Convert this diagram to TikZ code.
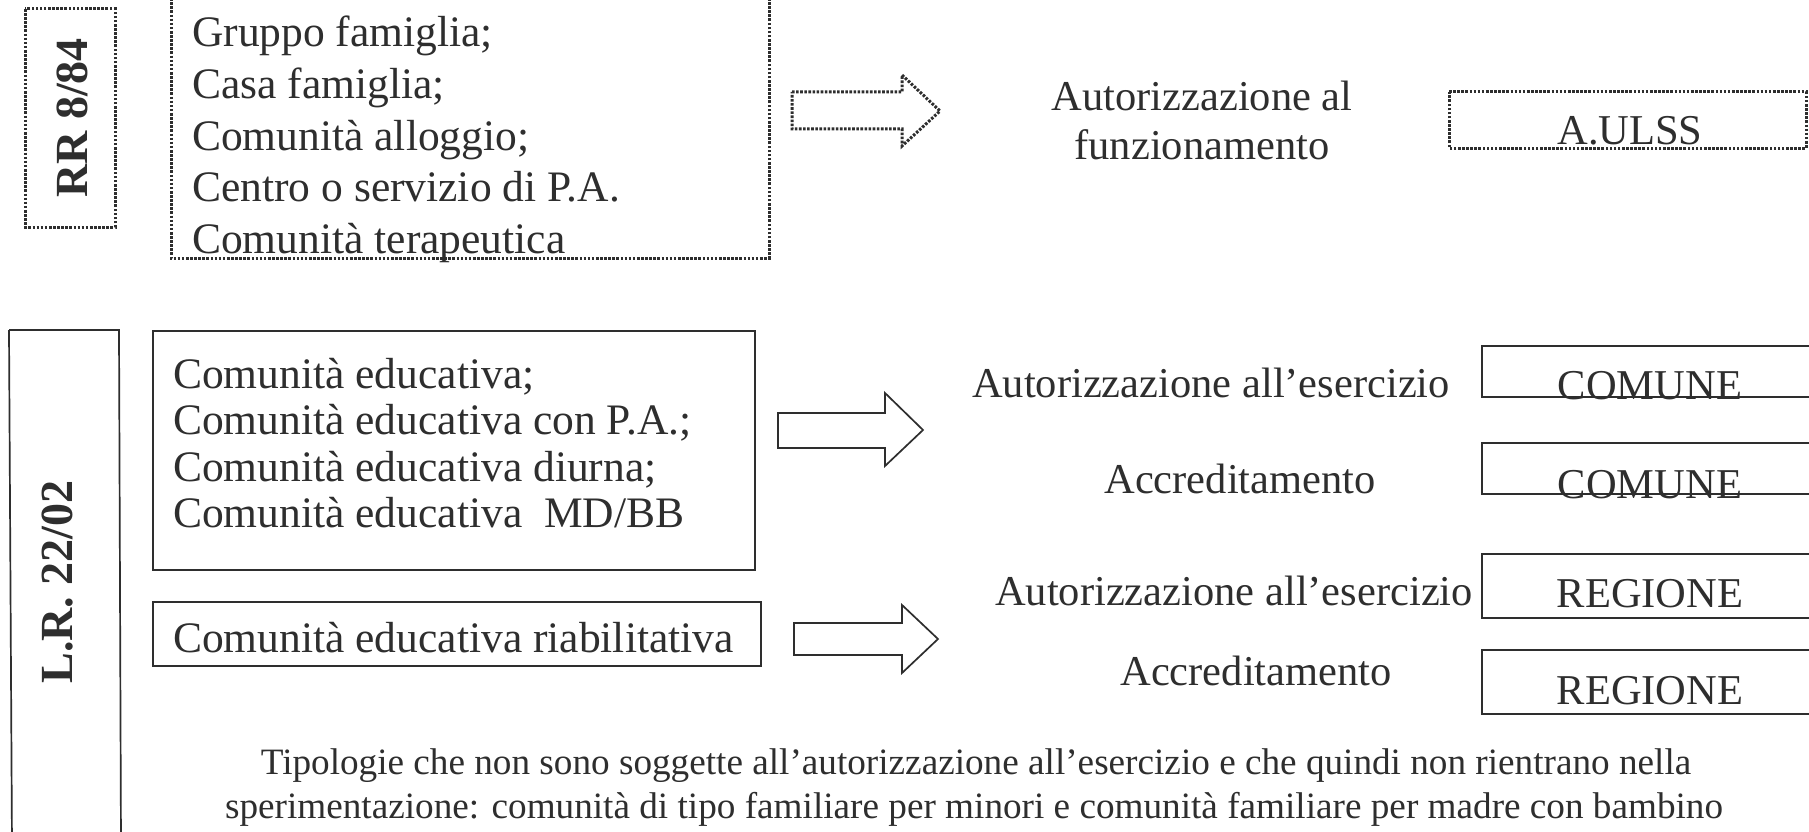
\documentclass[tikz,border=0pt]{standalone}
\usepackage{fontspec}
\setmainfont{Liberation Serif}
\begin{document}
\begin{tikzpicture}[x=1pt,y=-1pt,
  txt/.style={inner sep=0pt,anchor=base,text=ink,font=\fontsize{42.5}{50}\selectfont},
  ltxt/.style={inner sep=0pt,anchor=base west,text=ink,font=\fontsize{43.5}{50}\selectfont},
  note/.style={inner sep=0pt,anchor=base,text=ink,font=\fontsize{37.2}{44}\selectfont},
  dotbox/.style={draw=ink,line width=3pt,dash pattern=on 2.6pt off 1.5pt},
  solidbox/.style={draw=ink,line width=1.7pt},
  law/.style={inner sep=0pt,text=ink,rotate=90,font=\fontsize{46}{50}\selectfont\bfseries}]
\definecolor{ink}{HTML}{2E2E2E}
\useasboundingbox (0,0) rectangle (1809,832);
\clip (0,0) rectangle (1809,832);
\fill[white] (0,0) rectangle (1809,832);

% ---- RR 8/84 section
\draw[dotbox] (25,9) rectangle (115,227);
\node[law] (rr) at (72,118) {RR 8/84};
\draw[dotbox] (171,-10) rectangle (769,258);
\node[ltxt] (l1) at (192,47) {Gruppo famiglia;};
\node[ltxt] (l2) at (192,98.5) {Casa famiglia;};
\node[ltxt] (l3) at (192,150) {Comunità alloggio;};
\node[ltxt] (l4) at (192,201.5) {Centro o servizio di P.A.};
\node[ltxt] (l5) at (192,253) {Comunità terapeutica};
\draw[dotbox] (792,92) -- (902,92) -- (902,75) -- (940,111) -- (902,146) -- (902,129) -- (792,129) -- cycle;
\node[txt] (af1) at (1202,111) {Autorizzazione al};
\node[txt] (af2) at (1202,160) {funzionamento};
\draw[dotbox] (1449,92) -- (1806,92) -- (1806,148) -- (1449,148) -- cycle;
\node[txt] (ulss) at (1630,145) {A.ULSS};

% ---- L.R. 22/02 section
\draw[solidbox] (9,330) -- (119,330) -- (121,845) (9,330) -- (12,845);
\node[law] (lr) at (58,582) {L.R. 22/02};
\draw[solidbox] (153,331) rectangle (755,570);
\node[ltxt] (c1) at (173,388) {Comunità educativa;};
\node[ltxt] (c2) at (173,434.5) {Comunità educativa con P.A.;};
\node[ltxt] (c3) at (173,481) {Comunità educativa diurna;};
\node[ltxt] (c4) at (173,527.5) {Comunità educativa\ \ MD/BB};
\draw[solidbox] (153,602) rectangle (761,666);
\node[ltxt] (c5) at (173,652) {Comunità educativa riabilitativa};
\draw[solidbox] (778,413) -- (885,413) -- (885,393) -- (923,430) -- (885,466) -- (885,448) -- (778,448) -- cycle;
\draw[solidbox] (794,623) -- (902,623) -- (902,605) -- (938,639) -- (902,673) -- (902,655) -- (794,655) -- cycle;

\node[txt] (e1) at (1211,397) {Autorizzazione all’esercizio};
\draw[solidbox] (1815,346) -- (1482,346) -- (1482,397) -- (1815,397);
\node[txt] (com1) at (1650,399) {COMUNE};
\node[txt] (ac1) at (1240,493) {Accreditamento};
\draw[solidbox] (1815,443) -- (1482,443) -- (1482,494) -- (1815,494);
\node[txt] (com2) at (1650,498) {COMUNE};
\node[txt] (e2) at (1234,605) {Autorizzazione all’esercizio};
\draw[solidbox] (1815,554) -- (1482,554) -- (1482,618) -- (1815,618);
\node[txt] (reg1) at (1650,607) {REGIONE};
\node[txt] (ac2) at (1256,685) {Accreditamento};
\draw[solidbox] (1815,650) -- (1482,650) -- (1482,714) -- (1815,714);
\node[txt] (reg2) at (1650,704) {REGIONE};

\node[note] (n1) at (976,774) {Tipologie che non sono soggette all’autorizzazione all’esercizio e che quindi non rientrano nella};
\node[note] (n2) at (974,818) {sperimentazione: comunità di tipo familiare per minori e comunità familiare per madre con bambino};
\end{tikzpicture}
\end{document}
